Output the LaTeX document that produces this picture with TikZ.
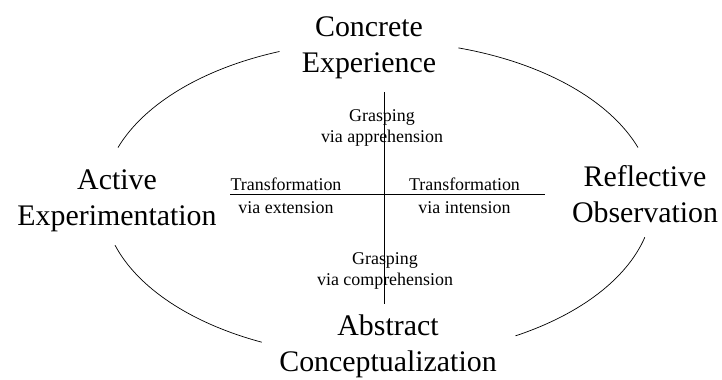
\documentclass[tikz,border=0pt]{standalone}
\usepackage{fontspec}
\setmainfont{Liberation Serif}
\usepackage{tikz}

\begin{document}
\begin{tikzpicture}[stage/.style={align=center,inner sep=0pt,anchor=base,font=\fontsize{17}{20.2}\selectfont},
  mode/.style={align=center,inner sep=0pt,anchor=base,font=\fontsize{10.2}{11.9}\selectfont}]
\useasboundingbox (0,0) rectangle (14.44,7.58);
\coordinate (ctr) at (7.56,3.60);
% the four stages
\node[stage] (ce) at (7.38,6.14) {Concrete\\Experience};
\node[stage] (ae) at (2.34,3.08) {Active\\Experimentation};
\node[stage] (ro) at (12.90,3.14) {Reflective\\Observation};
\node[stage] (ac) at (7.76,0.16) {Abstract\\Conceptualization};
% cycle, broken at the labels
\draw ([shift={(111:5.5 and 3.16)}]ctr) arc[start angle=111,end angle=161,x radius=5.5,y radius=3.16];
\draw ([shift={(19:5.5 and 3.16)}]ctr) arc[start angle=19,end angle=73,x radius=5.5,y radius=3.16];
\draw ([shift={(197:5.5 and 3.16)}]ctr) arc[start angle=197,end angle=245,x radius=5.5,y radius=3.16];
\draw ([shift={(300:5.5 and 3.16)}]ctr) arc[start angle=300,end angle=346,x radius=5.5,y radius=3.16];
% axes
\coordinate (gtop) at (7.68,5.74);
\coordinate (gbot) at (7.68,1.50);
\coordinate (tleft) at (4.60,3.70);
\coordinate (tright) at (10.90,3.70);
\draw (gtop) -- (gbot);
\draw (tleft) -- (tright);
\node[mode] (ga) at (7.64,4.73) {Grasping\\via apprehension};
\node[mode] (gc) at (7.70,1.88) {Grasping\\via comprehension};
\node[mode,font=\fontsize{10.2}{13.1}\selectfont] (te) at (5.72,3.31) {Transformation\\via extension};
\node[mode,font=\fontsize{10.2}{13.1}\selectfont] (ti) at (9.29,3.31) {Transformation\\via intension};
\end{tikzpicture}
\end{document}
